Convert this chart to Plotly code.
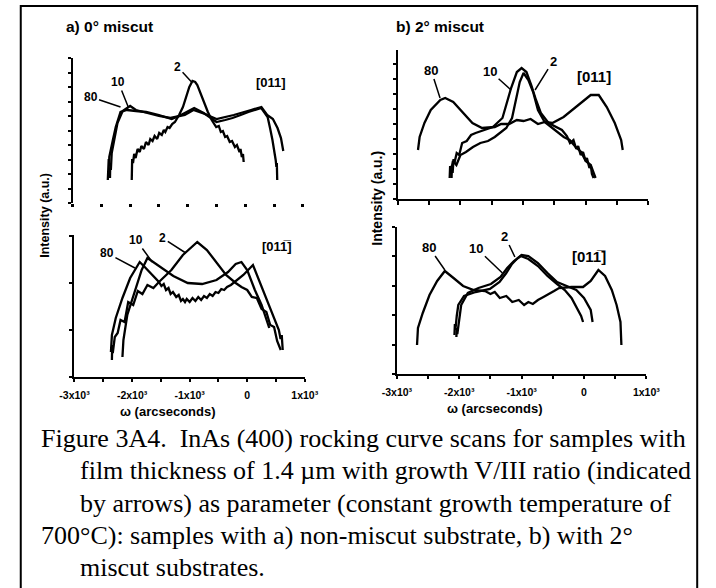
import plotly.graph_objects as go

W, H = 716, 588

# ---------------- data (x: arcseconds, y: intensity, a.u.) ----------------
# panel a) 0 deg miscut, [011]
a_top_80_x = [-2388, -2384, -2378, -2372, -2366, -2362, -2300, -2250, -2167, -2055, -1900, -1722, -1500, -1278, -1150, -1055, -888, -722, -600, -500, -350, -222, -80, 55, 278, 388, 430, 472, 528, 540, 548, 555]
a_top_80_y = [23, 40, 31, 44, 37, 46, 63, 76, 91, 93, 92, 91, 88, 84, 87, 90, 95, 90, 85, 81, 83, 85, 88, 91, 95, 86, 75, 63, 43, 36, 40, 23]
a_top_10_x = [-2350, -2345, -2335, -2320, -2270, -2220, -2130, -2000, -1900, -1700, -1500, -1300, -1050, -900, -700, -500, -200, 100, 280, 380, 480, 560, 620, 660]
a_top_10_y = [25, 40, 33, 50, 66, 80, 92, 97, 93, 90, 87, 85, 88, 93, 89, 84, 88, 93, 96, 88, 84, 75, 65, 52]
a_top_2_x = [-1972, -1965, -1950, -1930, -1905, -1870, -1833, -1805, -1760, -1725, -1680, -1650, -1611, -1575, -1530, -1495, -1450, -1415, -1389, -1350, -1315, -1270, -1222,
             -1150, -1083, -1020, -972, -917, -870, -833, -780, -722, -650, -583,
             -540, -505, -460, -425, -389, -350, -315, -270, -230, -180, -145, -100, -83, -60, -40, -28]
a_top_2_y = [23, 44, 40, 49, 45, 54, 51, 57, 54, 61, 58, 64, 62, 67, 64, 70, 68, 73, 71, 76, 75, 79, 81,
             88, 96, 108, 116, 122, 121, 118, 110, 101, 91, 83,
             79, 76, 77, 71, 72, 66, 67, 61, 62, 56, 58, 51, 54, 46, 49, 41]

# panel a) 0 deg miscut, [01-1]
a_bot_80_x = [-2367, -2362, -2356, -2350, -2283, -2167, -2033, -1867, -1780, -1700, -1620, -1533, -1490, -1450, -1410, -1367, -1330, -1290, -1233, -1190, -1150, -1117, -1080, -1050, -1000, -950, -900, -850, -800, -750, -700, -650, -600, -550, -500, -450, -400, -350, -283, -180, -67, 100, 217, 333, 433, 550, 580, 600, 617]
a_bot_80_y = [25, 38, 31, 42, 59, 79, 99, 115, 110, 105, 100, 95, 91, 93, 87, 89, 83, 85, 80, 82, 76, 78, 75, 78, 75, 79, 76, 80, 77, 81, 79, 83, 81, 85, 84, 88, 87, 90, 92, 97, 102, 112, 95, 77, 62, 47, 38, 42, 27]
a_bot_10_x = [-2167, -2160, -2150, -2083, -1950, -1833, -1733, -1533, -1283, -1033, -783, -533, -333, -200, -100, 0, 133, 250, 333, 383]
a_bot_10_y = [20, 30, 37, 62, 87, 107, 119, 111, 101, 94, 93, 97, 105, 113, 115, 107, 87, 72, 57, 49]
a_bot_2_x = [-2350, -2345, -2335, -2300, -2250, -2200, -2130, -2067, -1980, -1900, -1820, -1733, -1630, -1533, -1317, -1117, -867, -700, -533, -367, -200, -100, 0, 80, 167, 250, 333, 400, 467, 520, 583]
a_bot_2_y = [17, 32, 24, 40, 44, 57, 55, 75, 72, 86, 83, 92, 89, 95, 107, 122, 135, 127, 115, 102, 94, 90, 87, 80, 79, 68, 65, 52, 50, 36, 27]

# panel b) 2 deg miscut, [011]
b_top_80_x = [-2678, -2652, -2575, -2474, -2321, -2244, -2115, -1962, -1809, -1655, -1452, -1350, -1222, -1100, -992, -880, -762, -650, -532, -352, -123, 81, 209, 337, 465, 567, 592]
b_top_80_y = [49, 62, 76, 89, 99, 101, 97, 87, 76, 71, 72, 75, 75, 79, 78, 80, 75, 77, 76, 82, 94, 104, 104, 92, 76, 59, 49]
b_top_10_x = [-2142, -2135, -2125, -2110, -2096, -2060, -2020, -1973, -1900, -1830, -1758, -1620, -1482, -1329, -1268, -1191, -1099, -1023, -946, -869, -793, -716, -593, -480, -379, -300, -250, -195, -150, -120, -80, -42, 0, 20, 60, 81, 100, 127]
b_top_10_y = [21, 34, 26, 40, 36, 46, 44, 56, 58, 64, 66, 69, 72, 81, 94, 111, 127, 131, 127, 114, 99, 86, 76, 72, 69, 63, 56, 59, 50, 53, 44, 47, 38, 41, 31, 34, 25, 21]
b_top_2_x = [-2172, -2165, -2150, -2120, -2065, -2000, -1912, -1800, -1682, -1560, -1452, -1268, -1176, -1114, -1053, -992, -915, -839, -762, -655, -555, -455, -350, -256, -160, -72, 0, 81, 120, 158]
b_top_2_y = [21, 33, 28, 38, 34, 44, 47, 52, 56, 58, 62, 71, 81, 99, 117, 126, 119, 107, 89, 77, 72, 67, 62, 59, 52, 47, 38, 34, 27, 21]

# panel b) 2 deg miscut, [01-1]
b_bot_80_x = [-2677, -2672, -2668, -2662, -2585, -2477, -2354, -2231, -2092, -1938, -1769, -1585, -1500, -1431, -1350, -1246, -1150, -1046, -960, -892, -820, -738, -650, -554, -480, -400, -200, -15, 108, 231, 338, 446, 523, 585, 600]
b_bot_80_y = [29, 42, 35, 46, 61, 79, 93, 103, 96, 88, 84, 83, 80, 82, 76, 78, 72, 74, 69, 72, 70, 74, 77, 80, 83, 86, 87, 87, 93, 104, 98, 84, 69, 52, 29]
b_bot_10_x = [-2046, -2040, -2031, -2000, -1969, -1862, -1692, -1492, -1338, -1231, -1123, -1015, -892, -738, -585, -431, -308, -200, -108, -46, -15]
b_bot_10_y = [37, 46, 40, 56, 69, 81, 86, 90, 97, 106, 113, 118, 115, 108, 98, 90, 84, 76, 66, 58, 52]
b_bot_2_x = [-2077, -2070, -2062, -2040, -2015, -1923, -1738, -1508, -1354, -1246, -1154, -1062, -1000, -892, -738, -585, -431, -277, -123, 0, 108, 138]
b_bot_2_y = [39, 50, 44, 58, 69, 78, 82, 85, 92, 101, 110, 116, 119, 118, 111, 101, 92, 88, 84, 76, 64, 52]

x_tickvals = [-3000, -2000, -1000, 0, 1000]
x_ticktext = ["-3x10\u00b3", "-2x10\u00b3", "-1x10\u00b3", "0", "1x10\u00b3"]

caption_lines = [
    "Figure 3A4.\u00a0\u00a0InAs (400) rocking curve scans for samples with",
    "film thickness of 1.4 \u00b5m with growth V/III ratio (indicated",
    "by arrows) as parameter (constant growth temperature of",
    "700\u00b0C): samples with a) non-miscut substrate, b) with 2\u00b0",
    "miscut substrates.",
]

# ---------------- figure ----------------
fig = go.Figure()
LW = 2.3
panels = [
    ("x", "y", [(a_top_80_x, a_top_80_y, "80"), (a_top_10_x, a_top_10_y, "10"), (a_top_2_x, a_top_2_y, "2")]),
    ("x2", "y2", [(a_bot_80_x, a_bot_80_y, "80"), (a_bot_10_x, a_bot_10_y, "10"), (a_bot_2_x, a_bot_2_y, "2")]),
    ("x3", "y3", [(b_top_80_x, b_top_80_y, "80"), (b_top_10_x, b_top_10_y, "10"), (b_top_2_x, b_top_2_y, "2")]),
    ("x4", "y4", [(b_bot_80_x, b_bot_80_y, "80"), (b_bot_10_x, b_bot_10_y, "10"), (b_bot_2_x, b_bot_2_y, "2")]),
]
for xa, ya, series in panels:
    for xs, ys, nm in series:
        fig.add_trace(go.Scatter(x=xs, y=ys, mode="lines", name=nm, xaxis=xa, yaxis=ya,
                                 line=dict(color="black", width=LW), showlegend=False,
                                 hoverinfo="skip"))

def hx(p):
    return p / W

def vy(p):
    return 1 - p / H

tickfont = dict(family="Liberation Sans", size=10.5, color="black", weight="bold")
common_y = dict(showgrid=False, zeroline=False, showline=True, linecolor="black", linewidth=2,
                ticks="outside", ticklen=3, tickwidth=1.5, tickcolor="black", showticklabels=False)
common_x = dict(showgrid=False, zeroline=False, range=[-3000, 1000], tickcolor="black")

fig.update_layout(
    width=W, height=H, margin=dict(l=0, r=0, t=0, b=0),
    paper_bgcolor="white", plot_bgcolor="white",
    xaxis=dict(**common_x, domain=[hx(60), hx(300)], anchor="y", showline=False,
               ticks="outside", ticklen=3, tickwidth=3, tick0=-3000, dtick=500, showticklabels=False),
    yaxis=dict(**common_y, domain=[vy(203), vy(58)], anchor="x", range=[0, 145], tick0=0, dtick=14.5),
    xaxis2=dict(**common_x, domain=[hx(62), hx(302)], anchor="y2", showline=True, linecolor="black", linewidth=2,
                ticks="outside", ticklen=3, tickwidth=1.5, tickvals=x_tickvals, ticktext=x_ticktext,
                tickfont=tickfont, ticklabelstandoff=4,
                minor=dict(ticks="outside", ticklen=3, tickwidth=1.5, tickcolor="black", dtick=500, tick0=-3000)),
    yaxis2=dict(**common_y, domain=[vy(377), vy(235)], anchor="x2", range=[0, 142], tick0=0, dtick=47),
    xaxis3=dict(**common_x, domain=[hx(399), hx(660)], anchor="y3", showline=True, linecolor="black", linewidth=2,
                ticks="outside", ticklen=4, tickwidth=1.5, tick0=-3000, dtick=500, showticklabels=False),
    yaxis3=dict(**common_y, domain=[vy(199), vy(50)], anchor="x3", range=[0, 149], tick0=0, dtick=15),
    xaxis4=dict(**common_x, domain=[hx(398), hx(658)], anchor="y4", showline=True, linecolor="black", linewidth=2,
                ticks="outside", ticklen=3, tickwidth=1.5, tickvals=x_tickvals, ticktext=x_ticktext,
                tickfont=tickfont, ticklabelstandoff=4,
                minor=dict(ticks="outside", ticklen=3, tickwidth=1.5, tickcolor="black", dtick=500, tick0=-3000)),
    yaxis4=dict(**common_y, domain=[vy(374), vy(227)], anchor="x4", range=[0, 147], tick0=0, dtick=29.4),
)

ann = []

def leader(text, xr, yr, x, y, ax, ay, size=12):
    ann.append(dict(text=text, xref=xr, yref=yr, x=x, y=y, ax=ax, ay=ay, showarrow=True,
                    arrowhead=0, arrowwidth=1.5, arrowcolor="black", standoff=0,
                    font=dict(family="Liberation Sans", size=size, color="black", weight="bold")))

def ptext(text, px, py, size=11, rot=0, family="Liberation Sans", bold=True, xanchor="center"):
    f = dict(family=family, size=size, color="black")
    if bold:
        f["weight"] = "bold"
    ann.append(dict(text=text, xref="paper", yref="paper", x=hx(px), y=vy(py), showarrow=False,
                    font=f, textangle=rot, xanchor=xanchor, yanchor="middle", borderpad=0))

# curve labels with leader lines (tips in data coordinates)
leader("80", "x", "y", -2167, 96, -30, -10)
leader("10", "x", "y", -2033, 96, -10, -25)
leader("2", "x", "y", -933, 121, -14, -15)
leader("80", "x2", "y2", -1950, 109, -28, -15)
leader("10", "x2", "y2", -1650, 115, -16, -22)
leader("2", "x2", "y2", -1067, 124, -23, -15)
leader("80", "x3", "y3", -2326, 101, -9, -28, 13)
leader("10", "x3", "y3", -1191, 109, -21, -19, 13)
leader("2", "x3", "y3", -808, 109, 18, -29, 13)
leader("80", "x4", "y4", -2231, 104, -16, -23, 13)
leader("10", "x4", "y4", -1308, 101, -26, -25, 13)
leader("2", "x4", "y4", -1108, 117, -10, -21, 13)

ptext("[011]", 267, 82, size=13)
ptext("[01\u0031\u0305]", 273, 247, size=13)
ptext("[011]", 603, 77, size=15)
ptext("[01\u0031\u0305]", 598, 256, size=15)

ptext("a) 0\u00b0 miscut", 98, 27, size=15.5)
ptext("b) 2\u00b0 miscut", 443, 27, size=15.5)

ptext("Intensity (a.u.)", 31, 215, size=12.5, rot=-90)
ptext("Intensity (a.u.)", 377, 198, size=14, rot=-90)
ptext("\u03c9 (arcseconds)", 159, 411, size=13)
ptext("\u03c9 (arcseconds)", 500, 408, size=13)

cap_x = [26, 67, 67, 26, 67]
cap_y = [438, 471, 503, 535, 567]
for t, cx, cy in zip(caption_lines, cap_x, cap_y):
    ptext(t, cx, cy, size=26, family="Liberation Serif", bold=False, xanchor="left")

fig.update_layout(annotations=ann)

# outer frame
fig.add_shape(type="rect", xref="paper", yref="paper", x0=hx(6), x1=hx(711), y0=-0.05, y1=vy(6),
              line=dict(color="black", width=2), fillcolor="rgba(0,0,0,0)", layer="above")

fig.write_html("out.html", config={"displayModeBar": False},
               post_script="document.body.style.margin='0';document.body.style.overflow='hidden';")
